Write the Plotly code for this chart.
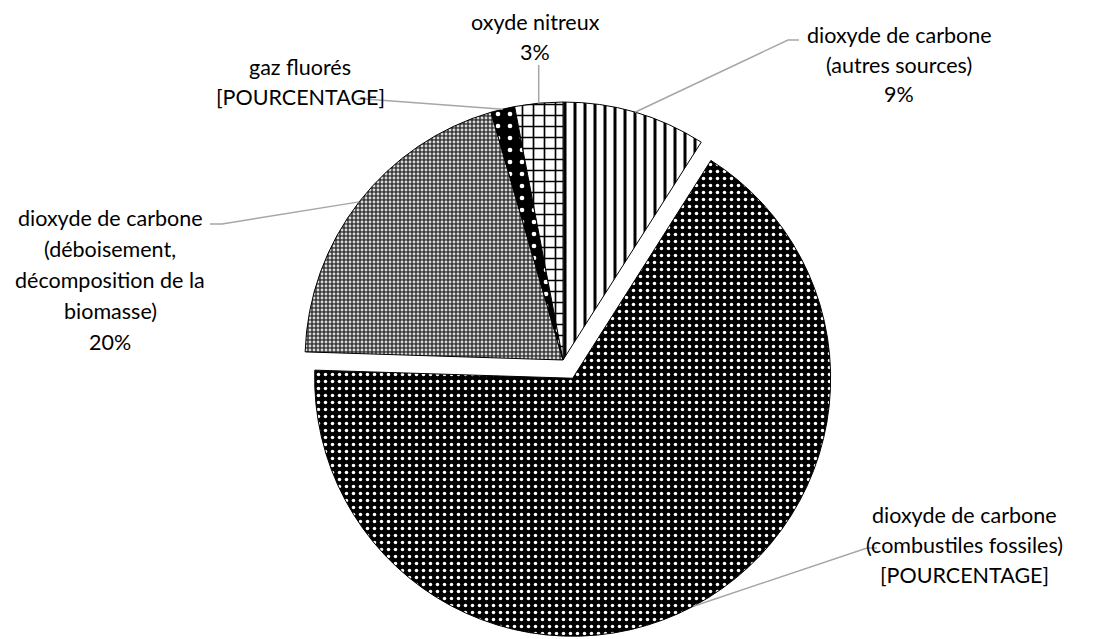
import math
import plotly.graph_objects as go

# ---------------- data ----------------
categories = [
    "dioxyde de carbone (autres sources)",
    "dioxyde de carbone (combustiles fossiles)",
    "dioxyde de carbone (déboisement, décomposition de la biomasse)",
    "gaz fluorés",
    "oxyde nitreux",
]
values = [9, 66.5, 20, 1.5, 3]
label_lines = [
    ["dioxyde de carbone", "(autres sources)", "9%"],
    ["dioxyde de carbone", "(combustiles fossiles)", "[POURCENTAGE]"],
    ["dioxyde de carbone", "(déboisement,", "décomposition de la", "biomasse)", "20%"],
    ["gaz fluorés", "[POURCENTAGE]"],
    ["oxyde nitreux", "3%"],
]

# ---------------- layout / style ----------------
W, H = 1094, 639
CX, CY = 563, 360
R = 258
PULL = 0.08
pulls = [0, PULL, 0, 0, 0]
half = R * (1 + PULL)

pattern_shapes = ["|", ".", ".", ".", "+"]
pattern_fg = ["black", "white", "#d9d9d9", "white", "black"]
pattern_bg = ["white", "black", "#3a3a3a", "black", "white"]
pattern_size = [10, 7, 4, 12, 11]
pattern_sol = [0.3, 0.2, 0.4, 0.12, 0.28]

# label positions (pixels): center x, first-line y, line spacing
label_pos = [(899, 35, 29.5), (964, 515, 30), (110, 218, 31), (300, 67, 30), (535, 22, 30)]
# leader line bends (pixels) after the anchor on the slice edge
leader_bends = [
    [(788, 40), (799, 40)],
    [(867, 548), (877, 548)],
    [(222, 224), (210, 224)],
    [(365, 99), (358, 99)],
    [(None, 65)],
]

FONT = "Lato"
FSIZE = 21.5
LEADER_COLOR = "#a6a6a6"


def px(x, y):
    return x / W, 1 - y / H


fig = go.Figure()
fig.add_trace(go.Pie(
    labels=categories,
    values=values,
    sort=False,
    direction="clockwise",
    rotation=0,
    pull=pulls,
    textinfo="none",
    hoverinfo="label+percent",
    showlegend=False,
    marker=dict(
        colors=pattern_bg,
        line=dict(color="black", width=1),
        pattern=dict(shape=pattern_shapes, fgcolor=pattern_fg, bgcolor=pattern_bg,
                     size=pattern_size, solidity=pattern_sol, fillmode="replace"),
    ),
    domain=dict(x=[(CX - half) / W, (CX + half) / W],
                y=[1 - (CY + half) / H, 1 - (CY - half) / H]),
))

annotations = []
shapes = []
total = sum(values)
cum = 0
for i, v in enumerate(values):
    mid = (cum + v / 2) / total * 2 * math.pi
    cum += v
    off = pulls[i] * R
    cxi = CX + off * math.sin(mid)
    cyi = CY - off * math.cos(mid)
    ax = cxi + R * math.sin(mid)
    ay = cyi - R * math.cos(mid)
    pts = [(ax, ay)]
    for bx, by in leader_bends[i]:
        pts.append((ax if bx is None else bx, by))
    path = ""
    for k, (x, y) in enumerate(pts):
        X, Y = px(x, y)
        path += ("M" if k == 0 else " L") + f" {X:.5f},{Y:.5f}"
    shapes.append(dict(type="path", path=path, xref="paper", yref="paper",
                       line=dict(color=LEADER_COLOR, width=1.5)))
    lx, ly0, sp = label_pos[i]
    for j, t in enumerate(label_lines[i]):
        X, Y = px(lx, ly0 + j * sp)
        annotations.append(dict(text=t, x=X, y=Y, xref="paper", yref="paper",
                                xanchor="center", yanchor="middle", showarrow=False,
                                font=dict(family=FONT, size=FSIZE, color="black")))

fig.update_layout(
    width=W, height=H,
    margin=dict(l=0, r=0, t=0, b=0),
    paper_bgcolor="white",
    plot_bgcolor="white",
    annotations=annotations,
    shapes=shapes,
)

fig.write_html("out.html", config={"displayModeBar": False},
               post_script="document.body.style.margin='0';document.body.style.overflow='hidden';")
